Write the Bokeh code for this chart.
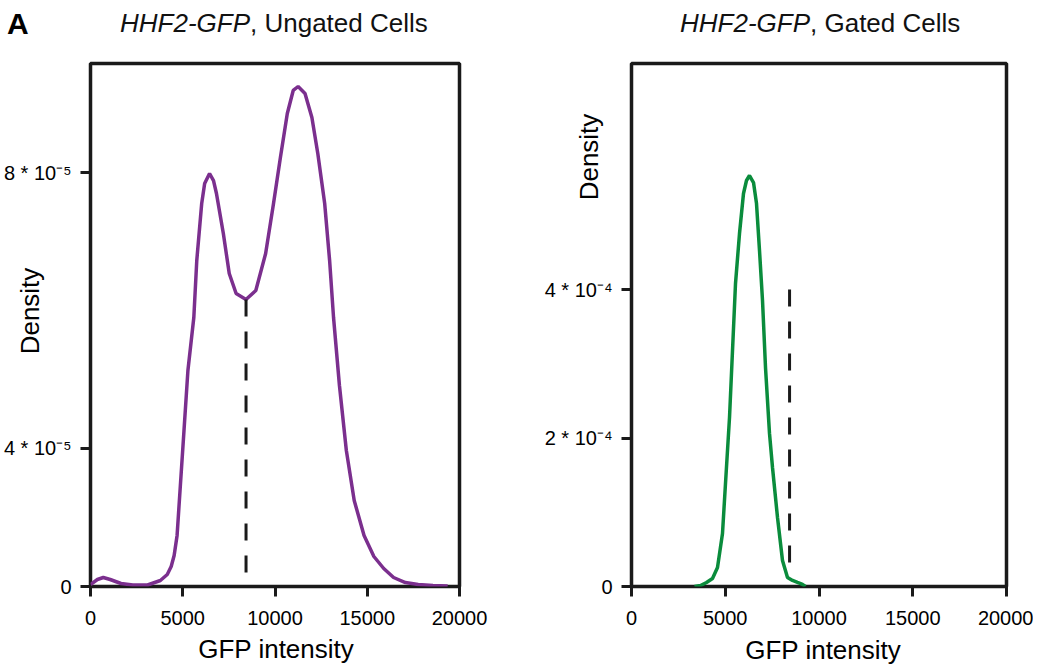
from bokeh.plotting import figure
from bokeh.models import Range1d, FixedTicker, Div
from bokeh.layouts import row, column
from bokeh.embed import file_html
from bokeh.resources import INLINE

# ---------------- data ----------------
ungated_x = [0, 373, 693, 1067, 1653, 2293, 3093, 3787, 4160, 4373, 4533, 4693, 4853,
             5067, 5280, 5600, 5760, 6027, 6187, 6453, 6667, 6827, 7200, 7520, 7893,
             8427, 8960, 9493, 9920, 10293, 10667, 10987, 11253, 11627, 12000, 12320,
             12693, 12960, 13173, 13493, 13867, 14293, 14827, 15360, 15893, 16427,
             17067, 17760, 18560, 19360]
ungated_density = [0.039e-5, 0.135e-5, 0.174e-5, 0.135e-5, 0.058e-5, 0.029e-5, 0.029e-5,
                   0.116e-5, 0.232e-5, 0.386e-5, 0.599e-5, 0.986e-5, 1.855e-5, 3.014e-5,
                   4.174e-5, 5.198e-5, 6.300e-5, 7.401e-5, 7.787e-5, 7.981e-5, 7.845e-5,
                   7.594e-5, 6.821e-5, 6.048e-5, 5.662e-5, 5.546e-5, 5.720e-5, 6.435e-5,
                   7.401e-5, 8.290e-5, 9.140e-5, 9.585e-5, 9.662e-5, 9.527e-5, 9.063e-5,
                   8.367e-5, 7.401e-5, 6.300e-5, 5.198e-5, 3.884e-5, 2.628e-5, 1.662e-5,
                   0.986e-5, 0.580e-5, 0.348e-5, 0.174e-5, 0.077e-5, 0.039e-5, 0.019e-5,
                   0.010e-5]

gated_x = [3360, 3680, 4000, 4320, 4587, 4853, 5013, 5227, 5387, 5547, 5760, 5973, 6133,
           6293, 6507, 6667, 6827, 6987, 7147, 7360, 7520, 7787, 8053, 8320, 8587, 8853,
           9120, 9280]
gated_density = [0.0, 0.013e-4, 0.054e-4, 0.108e-4, 0.256e-4, 0.714e-4, 1.387e-4, 2.276e-4,
                 3.178e-4, 4.081e-4, 4.754e-4, 5.293e-4, 5.468e-4, 5.535e-4, 5.441e-4,
                 5.158e-4, 4.525e-4, 3.852e-4, 2.949e-4, 2.061e-4, 1.603e-4, 0.929e-4,
                 0.350e-4, 0.121e-4, 0.081e-4, 0.054e-4, 0.027e-4, 0.0]

gate_threshold = 8430
ungated_gate_y = [5.546e-5, 0.27e-5]
gated_gate_y = [4.0e-4, 0.32e-4]

x_ticks = [0, 5000, 10000, 15000, 20000]
x_tick_labels = ["0", "5000", "10000", "15000", "20000"]

ungated_y_ticks = [0.0, 2.667e-5, 8e-5]
ungated_y_labels = ["0", "4 * 10\u207b\u2075", "8 * 10\u207b\u2075"]
gated_y_ticks = [0.0, 2e-4, 4e-4]
gated_y_labels = ["0", "2 * 10\u207b\u2074", "4 * 10\u207b\u2074"]

panel_titles = ["Ungated Cells", "Gated Cells"]
strain = "HHF2-GFP"
x_label = "GFP intensity"
y_label = "Density"

FONT = "Liberation Sans"
INK = "#1a1a1a"
PURPLE = "#7b2f8e"
GREEN = "#0a8c3c"

FIG_H = 599


def make_panel(width, border_left, border_right, y_end, y_ticks, y_labels):
    p = figure(width=width, height=FIG_H, output_backend="svg", toolbar_location=None,
               x_range=Range1d(0, 20000), y_range=Range1d(0, y_end),
               min_border_left=border_left, min_border_right=border_right,
               min_border_top=5, min_border_bottom=FIG_H - 5 - 523)
    p.grid.visible = False
    p.outline_line_color = INK
    p.outline_line_width = 3.5
    p.border_fill_alpha = 0
    for ax in (p.xaxis[0], p.yaxis[0]):
        ax.axis_line_color = None
        ax.major_tick_line_color = INK
        ax.major_tick_line_width = 3
        ax.major_tick_in = 0
        ax.major_tick_out = 10
        ax.minor_tick_line_color = None
        ax.major_label_text_font = FONT
        ax.major_label_text_font_size = "20px"
        ax.major_label_text_color = "black"
    p.xaxis.ticker = FixedTicker(ticks=x_ticks)
    p.xaxis.major_label_overrides = dict(zip(x_ticks, x_tick_labels))
    p.xaxis.major_label_standoff = 14
    p.yaxis.ticker = FixedTicker(ticks=y_ticks)
    p.yaxis.major_label_overrides = dict(zip(y_ticks, y_labels))
    p.yaxis.major_label_standoff = 9
    return p


# ---------------- left panel ----------------
left_top = 523 / 51.75 * 1e-5
p1 = make_panel(540, 84, 81, left_top, ungated_y_ticks, ungated_y_labels)
p1.line(ungated_x, ungated_density, line_color=PURPLE, line_width=3.5)
p1.line([gate_threshold, gate_threshold], ungated_gate_y, line_color=INK,
        line_width=3, line_dash="17 15")

# ---------------- right panel ----------------
right_top = 523 / 74.25 * 1e-4
p2 = make_panel(493, 91, 27, right_top, gated_y_ticks, gated_y_labels)
p2.line(gated_x, gated_density, line_color=GREEN, line_width=3.5)
p2.line([gate_threshold, gate_threshold], gated_gate_y, line_color=INK,
        line_width=3, line_dash="17 15")

# ---------------- texts outside the frames (HTML overlay) ----------------
span = "position:absolute;white-space:nowrap;"
html = (
    '<div style="position:relative;width:1033px;height:48px;overflow:visible;'
    'font-family:\'Liberation Sans\',Arial,sans-serif;color:#111;">'
    f'<span style="{span}left:2px;top:4px;font-size:30px;line-height:30px;'
    'font-weight:bold;color:#000;">A</span>'
    f'<span style="{span}left:115px;top:5px;font-size:26px;line-height:26px;">'
    f'<i>{strain}</i>, {panel_titles[0]}</span>'
    f'<span style="{span}left:675px;top:5px;font-size:26px;line-height:26px;">'
    f'<i>{strain}</i>, {panel_titles[1]}</span>'
    f'<span style="{span}left:-35px;top:291px;width:120px;height:30px;font-size:26px;'
    f'line-height:30px;text-align:center;transform:rotate(-90deg);color:#000;">{y_label}</span>'
    f'<span style="{span}left:524px;top:137px;width:120px;height:30px;font-size:26px;'
    f'line-height:30px;text-align:center;transform:rotate(-90deg);color:#000;">{y_label}</span>'
    f'<span style="{span}left:121px;top:631px;width:300px;font-size:26px;line-height:26px;'
    f'text-align:center;color:#000;">{x_label}</span>'
    f'<span style="{span}left:668px;top:632px;width:300px;font-size:26px;line-height:26px;'
    f'text-align:center;color:#000;">{x_label}</span>'
    '</div>'
)
overlay = Div(text=html, width=1033, height=48,
              styles={"overflow": "visible", "z-index": "10"},
              stylesheets=[":host{overflow:visible !important;z-index:10;} "
                           "div{overflow:visible !important;}"])

layout = column(overlay, row(p1, p2))
open("out.html", "w").write(file_html(layout, INLINE))
